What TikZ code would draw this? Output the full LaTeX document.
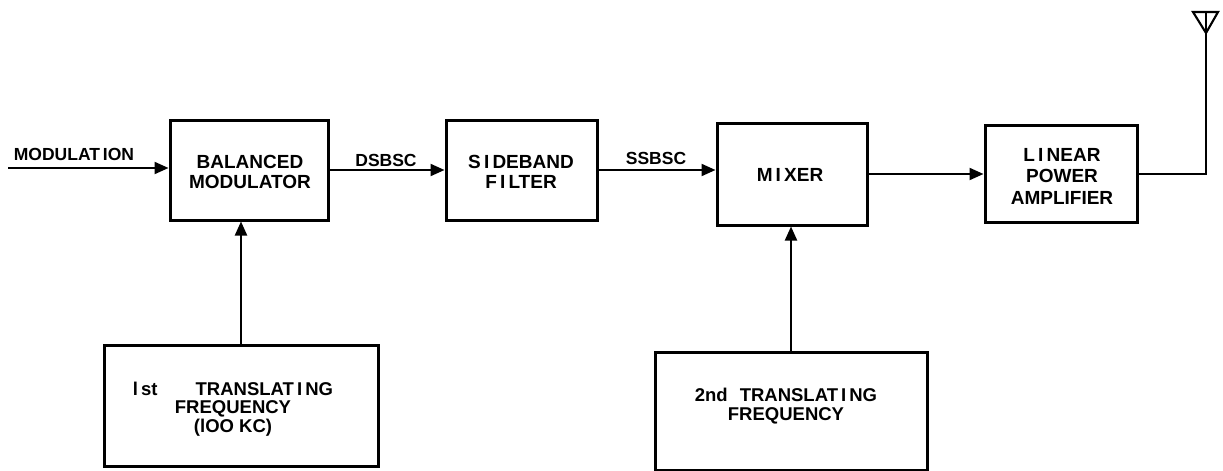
\documentclass[tikz,border=0pt]{standalone}
\usepackage{fontspec}
\setmainfont{Liberation Sans}
\usetikzlibrary{arrows.meta}
\begin{document}
\begin{tikzpicture}[x=1pt,y=-1pt,
  blk/.style={draw, line width=3pt, rectangle, inner sep=0pt},
  wire/.style={line width=2.1pt},
  arr/.style={wire, -{Triangle[length=14pt,width=12pt]}},
  lbl/.style={font=\fontsize{17.5}{20}\selectfont\bfseries, align=center, inner sep=0pt},
  blbl/.style={font=\fontsize{19}{20}\selectfont\bfseries, align=center, inner sep=0pt},
]
\useasboundingbox (0,0) rectangle (1223,471);
\fill[white] (0,0) rectangle (1223,471);
% blocks
\node[blk, minimum width=158pt, minimum height=100pt] (BM) at (249,170) {};
\node[blk, minimum width=151pt, minimum height=100pt] (SF) at (521.5,170) {};
\node[blk, minimum width=150pt, minimum height=102pt] (MIX) at (792,174) {};
\node[blk, minimum width=152pt, minimum height=97pt] (LPA) at (1061,174) {};
\node[blk, minimum width=274pt, minimum height=121pt] (T1) at (241,405.5) {};
\node[blk, minimum width=272pt, minimum height=118pt] (T2) at (791,411) {};
% block texts
\node[blbl] (tBM) at (250,172) {BALANCED\\MODULATOR};
\node[blbl] (tSF) at (521,172) {S\,I\,DEBAND\\F\,I\,LTER};
\node[blbl] (tMIX) at (790,175) {M\,I\,XER};
\node[blbl, font=\fontsize{19}{21.5}\selectfont\bfseries] (tLPA) at (1062,176) {L\,I\,NEAR\\POWER\\AMPLIFIER};
\node[blbl, font=\fontsize{18.5}{18.5}\selectfont\bfseries] (tT1) at (233,409) {l\,st\hspace{38pt}TRANSLAT\,I\,NG\\FREQUENCY\\(lOO KC)};
\node[blbl, font=\fontsize{18.5}{18.5}\selectfont\bfseries] (tT2) at (786,406) {2nd\hspace{12pt}TRANSLAT\,I\,NG\\FREQUENCY};
% connector labels
\node[lbl] (lMOD) at (74,154) {MODULAT\,ION};
\node[lbl] (lDS) at (386,160) {DSBSC};
\node[lbl] (lSS) at (656,158) {SSBSC};
% connectors
\coordinate (modin) at (8,168);
\draw[arr] (modin) -- (modin -| BM.west);
\draw[arr] (BM.east) -- (BM.east -| SF.west);
\draw[arr] (SF.east) -- (SF.east -| MIX.west);
\draw[arr] (MIX.east) -- (MIX.east -| LPA.west);
\draw[arr] (T1.north) -- (T1.north |- BM.south);
\draw[arr] (T2.north) -- (T2.north |- MIX.south);
% antenna
\coordinate (corner) at (1206,174);
\coordinate (anttop) at (1206,11);
\coordinate (apex) at (1206,33);
\draw[wire] (LPA.east) -- (corner) -- (anttop);
\draw[wire, line join=miter] (1193,12) -- (1218,12) -- (apex) -- cycle;
\end{tikzpicture}
\end{document}
